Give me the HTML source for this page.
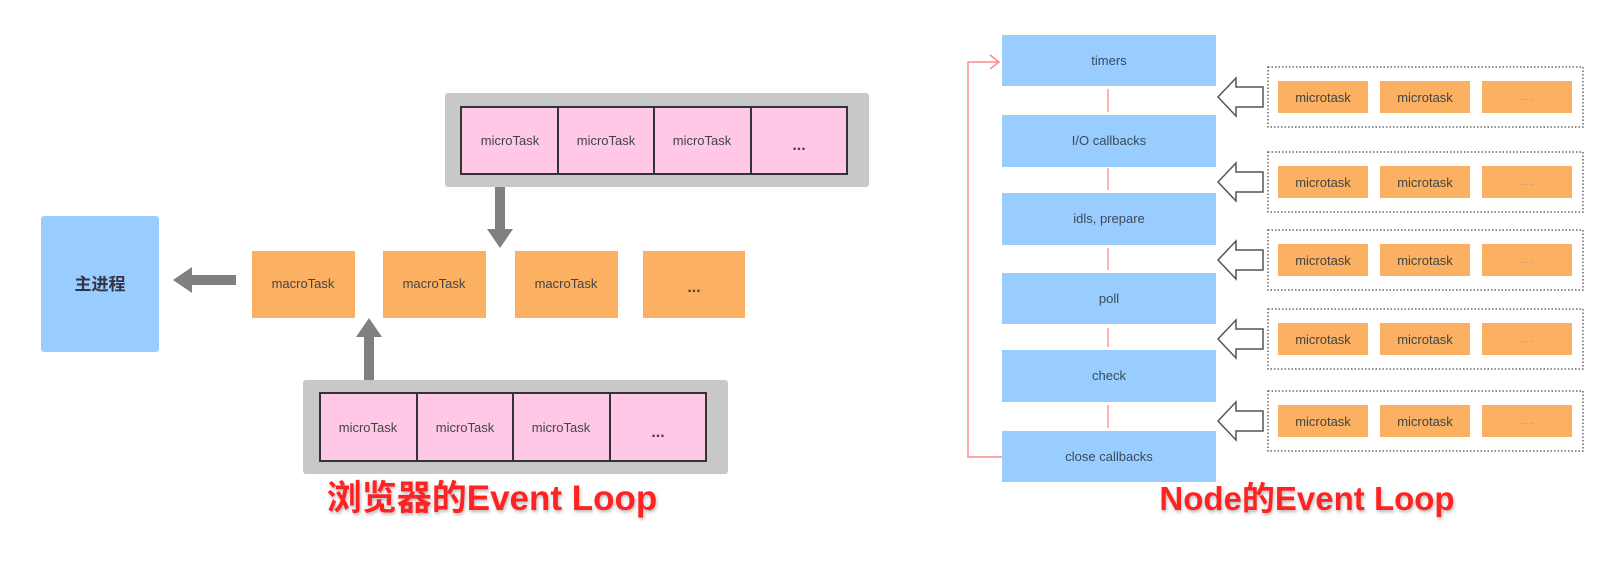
<!DOCTYPE html>
<html><head><meta charset="utf-8"><style>
body{margin:0;background:#fff;}
svg text{font-family:"Liberation Sans","Noto Sans CJK SC",sans-serif;}
</style></head><body>
<svg width="1618" height="562" viewBox="0 0 1618 562" xmlns="http://www.w3.org/2000/svg">
<defs>
<filter id="sh" x="-10%" y="-10%" width="120%" height="130%"><feDropShadow dx="1" dy="2" stdDeviation="1.5" flood-color="#888" flood-opacity="0.6"/></filter>
</defs>
<rect x="41" y="216" width="118" height="136" rx="3" fill="#99ccff"/>
<text x="100" y="290" font-size="17" font-weight="bold" fill="#334" text-anchor="middle">主进程</text>
<rect x="190" y="275" width="46" height="10" fill="#808080"/>
<polygon points="173,280 192,267 192,293" fill="#808080"/>
<g fill="#fbb161">
<rect x="252" y="251" width="103" height="67"/>
<rect x="383" y="251" width="103" height="67"/>
<rect x="515" y="251" width="103" height="67"/>
<rect x="643" y="251" width="102" height="67"/>
</g>
<g font-size="13" fill="#444" text-anchor="middle">
<text x="303" y="288">macroTask</text>
<text x="434" y="288">macroTask</text>
<text x="566" y="288">macroTask</text>
<text x="694" y="292" font-weight="bold" font-size="16">...</text>
</g>
<rect x="445" y="93" width="424" height="94" rx="3" fill="#c8c8c8"/>
<rect x="461" y="107" width="386" height="67" fill="#ffc8e6" stroke="#333" stroke-width="2"/>
<g stroke="#333" stroke-width="2"><line x1="558" y1="107" x2="558" y2="174"/><line x1="654" y1="107" x2="654" y2="174"/><line x1="751" y1="107" x2="751" y2="174"/></g>
<g font-size="13" fill="#444" text-anchor="middle">
<text x="510" y="145">microTask</text><text x="606" y="145">microTask</text><text x="702" y="145">microTask</text>
<text x="799" y="150" font-weight="bold" font-size="16">...</text>
</g>
<rect x="495" y="187" width="10" height="44" fill="#808080"/>
<polygon points="487,229 513,229 500,248" fill="#808080"/>
<rect x="364" y="335" width="10" height="45" fill="#808080"/>
<polygon points="356,337 382,337 369,318" fill="#808080"/>
<rect x="303" y="380" width="425" height="94" rx="3" fill="#c8c8c8"/>
<rect x="320" y="393" width="386" height="68" fill="#ffc8e6" stroke="#333" stroke-width="2"/>
<g stroke="#333" stroke-width="2"><line x1="417" y1="393" x2="417" y2="461"/><line x1="513" y1="393" x2="513" y2="461"/><line x1="610" y1="393" x2="610" y2="461"/></g>
<g font-size="13" fill="#444" text-anchor="middle">
<text x="368" y="432">microTask</text><text x="465" y="432">microTask</text><text x="561" y="432">microTask</text>
<text x="658" y="437" font-weight="bold" font-size="16">...</text>
</g>
<text x="492" y="510" font-size="35" font-weight="bold" fill="#ff2020" text-anchor="middle" filter="url(#sh)">浏览器的Event Loop</text>

<polyline points="1002,457 968,457 968,62 998,62" fill="none" stroke="#ff8a8a" stroke-width="1.5"/>
<polyline points="990,55 999,62 990,69" fill="none" stroke="#ff8a8a" stroke-width="1.5"/>
<g stroke="#ff9a9a" stroke-width="1.5">
<line x1="1108" y1="89" x2="1108" y2="112"/><line x1="1108" y1="168" x2="1108" y2="190"/>
<line x1="1108" y1="248" x2="1108" y2="270"/><line x1="1108" y1="328" x2="1108" y2="347"/>
<line x1="1108" y1="405" x2="1108" y2="428"/>
</g>
<g fill="#99ccff">
<rect x="1002" y="35" width="214" height="51"/>
<rect x="1002" y="115" width="214" height="52"/>
<rect x="1002" y="193" width="214" height="52"/>
<rect x="1002" y="273" width="214" height="51"/>
<rect x="1002" y="350" width="214" height="52"/>
<rect x="1002" y="431" width="214" height="51"/>
</g>
<g font-size="13" fill="#3a4a5a" text-anchor="middle">
<text x="1109" y="65">timers</text>
<text x="1109" y="145">I/O callbacks</text>
<text x="1109" y="223">idls, prepare</text>
<text x="1109" y="303">poll</text>
<text x="1109" y="380">check</text>
<text x="1109" y="461">close callbacks</text>
</g>
<g transform="translate(0,97)">
<rect x="1268" y="-30" width="315" height="60" fill="none" stroke="#666" stroke-width="1.5" stroke-dasharray="1.5,2"/>
<rect x="1278" y="-16" width="90" height="32" fill="#fbb161"/><rect x="1380" y="-16" width="90" height="32" fill="#fbb161"/><rect x="1482" y="-16" width="90" height="32" fill="#fbb161"/>
<text x="1323" y="5" font-size="13" fill="#444" text-anchor="middle">microtask</text><text x="1425" y="5" font-size="13" fill="#444" text-anchor="middle">microtask</text><text x="1527" y="3" font-size="9" fill="#c88" text-anchor="middle">... ..</text>
<polygon points="1218,0 1236,-19 1236,-10 1263,-10 1263,10 1236,10 1236,19" fill="#fff" stroke="#555" stroke-width="1.5"/>
</g>
<g transform="translate(0,182)">
<rect x="1268" y="-30" width="315" height="60" fill="none" stroke="#666" stroke-width="1.5" stroke-dasharray="1.5,2"/>
<rect x="1278" y="-16" width="90" height="32" fill="#fbb161"/><rect x="1380" y="-16" width="90" height="32" fill="#fbb161"/><rect x="1482" y="-16" width="90" height="32" fill="#fbb161"/>
<text x="1323" y="5" font-size="13" fill="#444" text-anchor="middle">microtask</text><text x="1425" y="5" font-size="13" fill="#444" text-anchor="middle">microtask</text><text x="1527" y="3" font-size="9" fill="#c88" text-anchor="middle">... ..</text>
<polygon points="1218,0 1236,-19 1236,-10 1263,-10 1263,10 1236,10 1236,19" fill="#fff" stroke="#555" stroke-width="1.5"/>
</g>
<g transform="translate(0,260)">
<rect x="1268" y="-30" width="315" height="60" fill="none" stroke="#666" stroke-width="1.5" stroke-dasharray="1.5,2"/>
<rect x="1278" y="-16" width="90" height="32" fill="#fbb161"/><rect x="1380" y="-16" width="90" height="32" fill="#fbb161"/><rect x="1482" y="-16" width="90" height="32" fill="#fbb161"/>
<text x="1323" y="5" font-size="13" fill="#444" text-anchor="middle">microtask</text><text x="1425" y="5" font-size="13" fill="#444" text-anchor="middle">microtask</text><text x="1527" y="3" font-size="9" fill="#c88" text-anchor="middle">... ..</text>
<polygon points="1218,0 1236,-19 1236,-10 1263,-10 1263,10 1236,10 1236,19" fill="#fff" stroke="#555" stroke-width="1.5"/>
</g>
<g transform="translate(0,339)">
<rect x="1268" y="-30" width="315" height="60" fill="none" stroke="#666" stroke-width="1.5" stroke-dasharray="1.5,2"/>
<rect x="1278" y="-16" width="90" height="32" fill="#fbb161"/><rect x="1380" y="-16" width="90" height="32" fill="#fbb161"/><rect x="1482" y="-16" width="90" height="32" fill="#fbb161"/>
<text x="1323" y="5" font-size="13" fill="#444" text-anchor="middle">microtask</text><text x="1425" y="5" font-size="13" fill="#444" text-anchor="middle">microtask</text><text x="1527" y="3" font-size="9" fill="#c88" text-anchor="middle">... ..</text>
<polygon points="1218,0 1236,-19 1236,-10 1263,-10 1263,10 1236,10 1236,19" fill="#fff" stroke="#555" stroke-width="1.5"/>
</g>
<g transform="translate(0,421)">
<rect x="1268" y="-30" width="315" height="60" fill="none" stroke="#666" stroke-width="1.5" stroke-dasharray="1.5,2"/>
<rect x="1278" y="-16" width="90" height="32" fill="#fbb161"/><rect x="1380" y="-16" width="90" height="32" fill="#fbb161"/><rect x="1482" y="-16" width="90" height="32" fill="#fbb161"/>
<text x="1323" y="5" font-size="13" fill="#444" text-anchor="middle">microtask</text><text x="1425" y="5" font-size="13" fill="#444" text-anchor="middle">microtask</text><text x="1527" y="3" font-size="9" fill="#c88" text-anchor="middle">... ..</text>
<polygon points="1218,0 1236,-19 1236,-10 1263,-10 1263,10 1236,10 1236,19" fill="#fff" stroke="#555" stroke-width="1.5"/>
</g>
<text x="1307" y="510" font-size="33" font-weight="bold" fill="#ff2020" text-anchor="middle" filter="url(#sh)">Node的Event Loop</text>
</svg>
</body></html>
